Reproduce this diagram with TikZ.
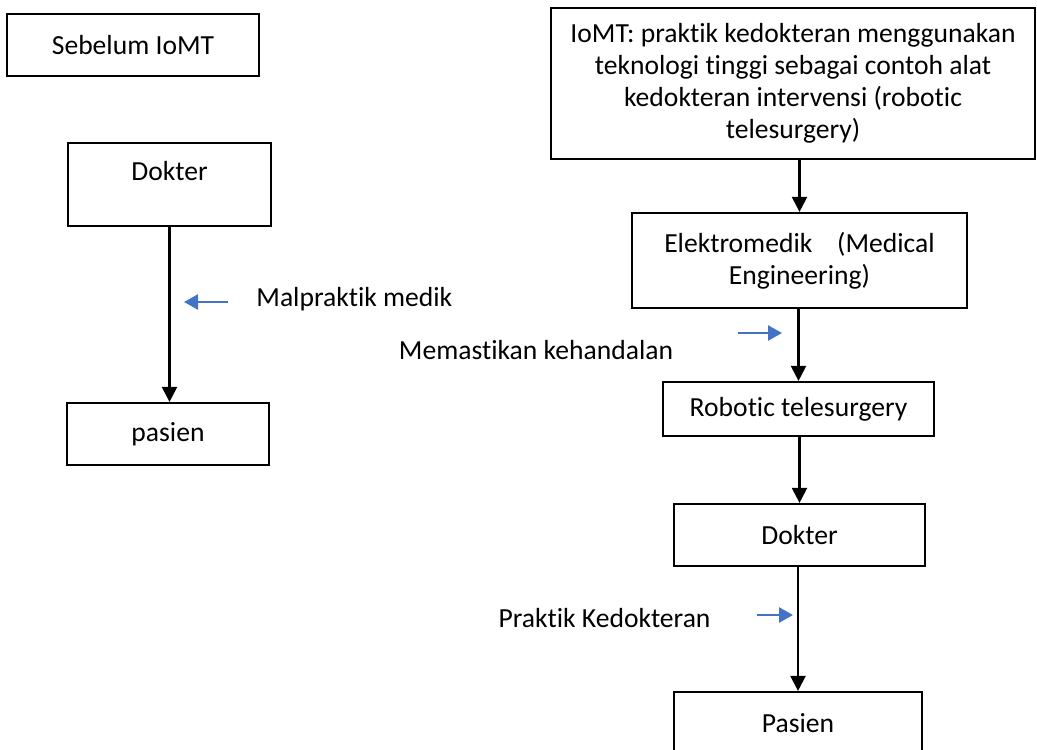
\documentclass[tikz,border=0pt]{standalone}
\usepackage{fontspec}
\setmainfont{Carlito}[Ligatures={NoCommon,NoContextual}]
\usetikzlibrary{arrows.meta}

\definecolor{noteblue}{HTML}{4472C4}

\tikzset{
	box/.style={draw, line width=1.1pt, inner sep=0pt, align=center},
	flow/.style={-{Triangle[length=7.5pt,width=7.5pt]}, line width=1.1pt},
	note/.style={-{Triangle[length=7pt,width=7.5pt]}, line width=1.3pt, noteblue},
	lbl/.style={inner sep=0pt}
}

\begin{document}
\begin{tikzpicture}[x=0.5pt,y=-0.5pt,font=\fontsize{13.8}{16}\selectfont]
	\useasboundingbox (0,0) rectangle (1037,749);
	
	% before IoMT
	\node[box, minimum width=126pt, minimum height=31pt] (sebelum) at (133,45) {Sebelum IoMT};
	\node[box, minimum width=101.5pt, minimum height=41.5pt, text height=10pt, text depth=13.6pt] (dokterL) at (169.5,184.5) {Dokter};
	\node[box, minimum width=101pt, minimum height=31pt] (pasienL) at (168,434) {pasien};
	\draw[flow] (dokterL.south) -- (dokterL.south |- pasienL.north);
	
	\coordinate (malA) at (228,302);
	\coordinate (malB) at (184,302);
	\draw[note] (malA) -- (malB);
	\node[lbl, anchor=west] (malpraktik) at (256,299) {Malpraktik medik};
	
	% with IoMT
	\node[box, minimum width=242pt, minimum height=75.5pt] (iomt) at (793,83.5) {IoMT: praktik kedokteran menggunakan\\ teknologi tinggi sebagai contoh alat\\ kedokteran intervensi (robotic\\ telesurgery)};
	\node[box, minimum width=167.5pt, minimum height=47.5pt] (elektro) at (799.5,260.5) {Elektromedik\hspace{0.9em}(Medical\\ Engineering)};
	\node[box, minimum width=135.5pt, minimum height=27pt] (robot) at (798.5,409) {Robotic telesurgery};
	\node[box, minimum width=125.5pt, minimum height=31pt] (dokterR) at (799.5,535) {Dokter};
	\node[box, minimum width=124pt, minimum height=31pt] (pasienR) at (798,723) {Pasien};
	
	\draw[flow] (iomt.south -| elektro.north) -- (elektro.north);
	\draw[flow] (elektro.south -| robot.north) -- (robot.north);
	\draw[flow] (robot.south -| dokterR.north) -- (dokterR.north);
	\draw[flow] (dokterR.south -| pasienR.north) -- (pasienR.north);
	
	\coordinate (kehA) at (738,333);
	\coordinate (kehB) at (782,333);
	\draw[note] (kehA) -- (kehB);
	\node[lbl] (kehandalan) at (536,350) {Memastikan kehandalan};
	
	\coordinate (praA) at (757,615);
	\coordinate (praB) at (793,615);
	\draw[note] (praA) -- (praB);
	\node[lbl] (praktik) at (604.5,618) {Praktik Kedokteran};
\end{tikzpicture}
\end{document}
